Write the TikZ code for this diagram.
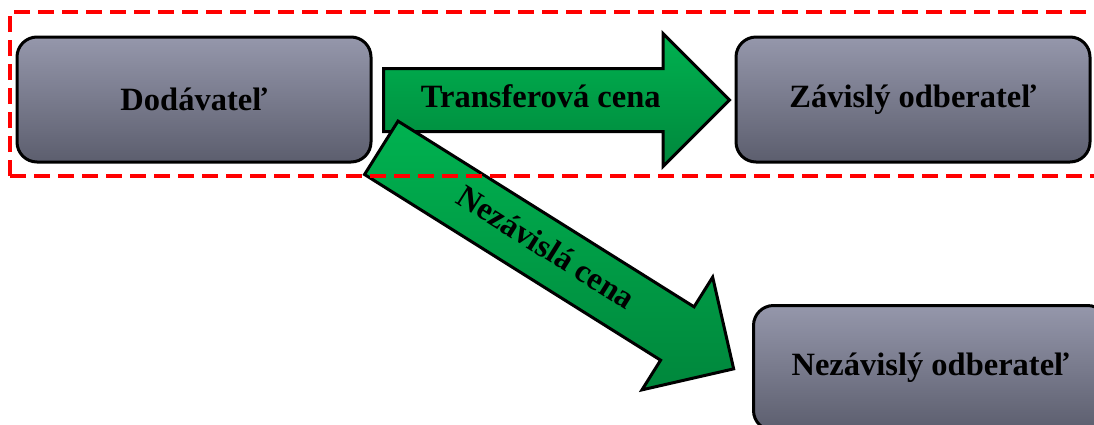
\documentclass[tikz,border=0pt]{standalone}
\usepackage{fontspec}
\setmainfont{Liberation Serif}
\usetikzlibrary{positioning,shapes,arrows}
\tikzset{
  font=\fontsize{32.5}{38}\selectfont\bfseries
}

\begin{document}
\begin{tikzpicture}[x=1pt,y=-1pt,
  party/.style={rectangle,rounded corners=20pt,draw,line width=3pt,minimum width=354pt,minimum height=125pt,top color=boxtop,bottom color=boxbot},
  price/.style={single arrow,draw,line width=3pt,single arrow head extend=35pt,text height=22pt,text depth=7pt,inner xsep=2pt,inner ysep=15.5pt,top color=greentop,bottom color=greenbot}]
\definecolor{boxtop}{RGB}{149,151,171}
\definecolor{boxbot}{RGB}{92,94,110}
\definecolor{greentop}{RGB}{0,178,80}
\definecolor{greenbot}{RGB}{0,135,60}
\clip (0,0) rectangle (1094,424);
\node[party] (dod) at (194,99.5) {Dodávateľ};
\node[party] (zav) [right=362pt of dod] {Závislý odberateľ};
\node[party,anchor=north west] (nez) at (752,304) {Nezávislý odberateľ};
\node[price,anchor=tail,minimum height=346pt] (transfer) at (382,100) {Transferová cena};
\node[price,anchor=tail,minimum height=416pt,rotate=-32.1] (indep) at (380,147) {Nezávislá cena};
\draw[red,line width=3.5pt,dash pattern=on 16pt off 8pt] (10,176) -- (10,12) -- (1100,12)
     (10,176) -- (1100,176);
\end{tikzpicture}
\end{document}
